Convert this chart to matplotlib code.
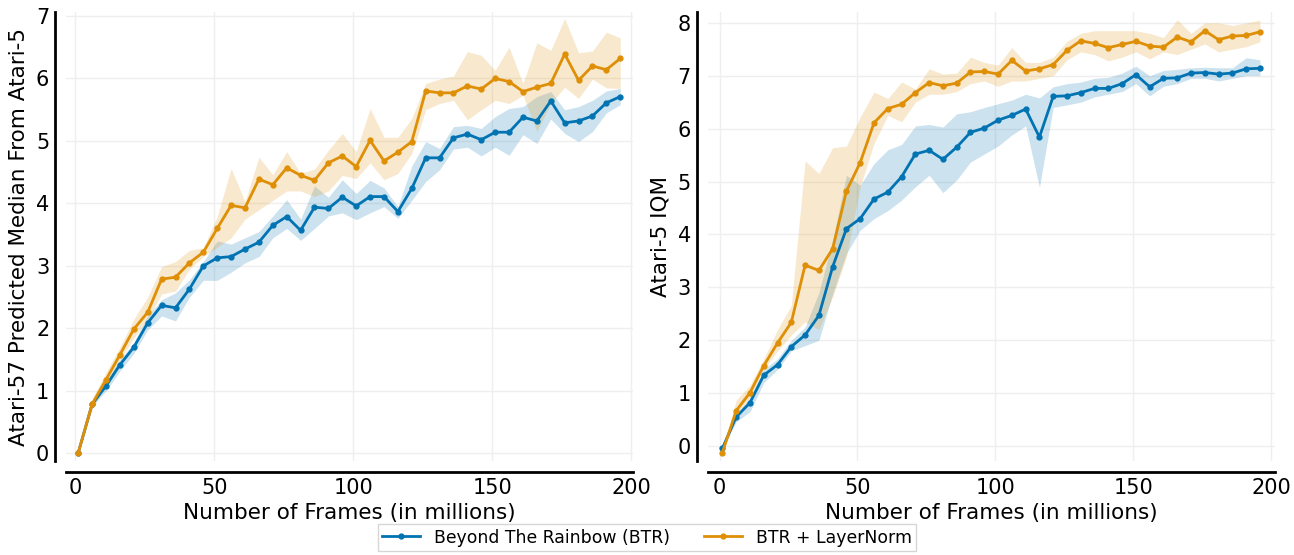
import matplotlib
matplotlib.use("Agg")
import matplotlib.pyplot as plt

# checkpoints (millions of frames)
frames = [1, 6, 11, 16, 21, 26, 31, 36, 41, 46,
          51, 56, 61, 66, 71, 76, 81, 86, 91, 96,
          101, 106, 111, 116, 121, 126, 131, 136, 141, 146,
          151, 156, 161, 166, 171, 176, 181, 186, 191, 196]

# left panel: Atari-57 predicted median
btr_median = [0.01, 0.79, 1.08, 1.42, 1.70, 2.09, 2.37, 2.33, 2.63, 3.00,
              3.13, 3.15, 3.27, 3.38, 3.65, 3.79, 3.57, 3.94, 3.92, 4.10,
              3.96, 4.11, 4.11, 3.87, 4.24, 4.73, 4.73, 5.05, 5.11, 5.02,
              5.14, 5.14, 5.38, 5.32, 5.64, 5.29, 5.32, 5.40, 5.61, 5.71]
btr_median_lo = [0.01, 0.76, 1.00, 1.32, 1.60, 1.98, 2.20, 2.12, 2.50, 2.77,
                 2.77, 2.90, 3.05, 3.15, 3.45, 3.60, 3.41, 3.60, 3.80, 3.85,
                 3.74, 3.85, 3.95, 3.76, 4.05, 4.35, 4.54, 4.87, 4.90, 4.76,
                 4.90, 4.77, 5.10, 4.96, 5.35, 5.12, 4.99, 5.15, 5.45, 5.58]
btr_median_hi = [0.01, 0.82, 1.15, 1.50, 1.78, 2.20, 2.46, 2.57, 2.78, 3.07,
                 3.40, 3.35, 3.45, 3.55, 3.80, 4.06, 3.75, 4.28, 4.10, 4.38,
                 4.16, 4.37, 4.25, 3.95, 4.60, 4.99, 4.88, 5.23, 5.25, 5.20,
                 5.39, 5.52, 5.55, 5.71, 5.79, 5.50, 5.55, 5.65, 5.80, 5.84]

ln_median = [0.01, 0.79, 1.18, 1.58, 1.99, 2.26, 2.79, 2.82, 3.05, 3.22,
             3.60, 3.97, 3.93, 4.39, 4.30, 4.57, 4.45, 4.37, 4.65, 4.76,
             4.59, 5.01, 4.68, 4.82, 4.99, 5.80, 5.77, 5.77, 5.88, 5.83,
             6.00, 5.95, 5.79, 5.86, 5.92, 6.39, 5.97, 6.20, 6.14, 6.32]
ln_median_lo = [0.01, 0.70, 1.10, 1.50, 1.85, 2.15, 2.55, 2.60, 2.95, 3.15,
                3.30, 3.45, 3.75, 3.90, 4.05, 4.20, 4.20, 4.11, 4.20, 4.45,
                4.40, 4.65, 4.38, 4.48, 4.80, 5.50, 5.60, 5.65, 5.34, 5.50,
                5.65, 5.60, 5.73, 5.15, 5.60, 5.86, 5.68, 5.99, 5.85, 5.84]
ln_median_hi = [0.01, 0.88, 1.30, 1.70, 2.15, 2.50, 2.99, 3.07, 3.25, 3.29,
                3.79, 4.56, 4.03, 4.74, 4.46, 4.83, 4.48, 4.55, 4.85, 5.12,
                4.83, 5.52, 5.06, 5.06, 5.36, 5.92, 5.99, 6.04, 6.43, 6.37,
                6.13, 6.50, 5.92, 6.57, 6.45, 6.96, 6.41, 6.44, 6.74, 6.65]

# right panel: Atari-5 IQM
btr_iqm = [-0.04, 0.55, 0.82, 1.34, 1.54, 1.88, 2.10, 2.47, 3.39, 4.11,
           4.30, 4.67, 4.80, 5.09, 5.52, 5.59, 5.42, 5.65, 5.93, 6.01,
           6.16, 6.25, 6.37, 5.84, 6.61, 6.62, 6.68, 6.76, 6.76, 6.85,
           7.02, 6.79, 6.95, 6.96, 7.05, 7.06, 7.03, 7.05, 7.13, 7.14]
btr_iqm_lo = [-0.04, 0.46, 0.65, 1.20, 1.45, 1.80, 1.90, 2.00, 2.88, 3.64,
              4.08, 4.30, 4.45, 4.65, 4.90, 5.12, 4.79, 5.03, 5.37, 5.52,
              5.67, 5.88, 6.05, 4.89, 6.40, 6.45, 6.50, 6.60, 6.65, 6.70,
              6.85, 6.62, 6.80, 6.85, 6.95, 6.95, 6.90, 6.95, 7.00, 7.00]
btr_iqm_hi = [-0.04, 0.60, 0.90, 1.45, 1.65, 2.00, 2.25, 2.90, 3.90, 5.12,
              4.93, 5.34, 5.60, 5.70, 6.05, 6.08, 6.03, 6.28, 6.32, 6.40,
              6.47, 6.54, 6.65, 6.58, 6.79, 6.85, 6.88, 6.95, 6.97, 7.05,
              7.18, 7.00, 7.10, 7.12, 7.15, 7.16, 7.15, 7.15, 7.34, 7.30]

ln_iqm = [-0.12, 0.67, 1.01, 1.52, 1.95, 2.34, 3.42, 3.32, 3.73, 4.82,
          5.36, 6.11, 6.38, 6.46, 6.68, 6.87, 6.81, 6.86, 7.07, 7.08,
          7.03, 7.29, 7.09, 7.13, 7.21, 7.48, 7.66, 7.61, 7.53, 7.59,
          7.65, 7.56, 7.54, 7.73, 7.64, 7.85, 7.68, 7.75, 7.76, 7.83]
ln_iqm_lo = [-0.12, 0.55, 0.90, 1.45, 1.80, 2.10, 2.35, 2.20, 2.82, 3.58,
             4.90, 5.72, 6.25, 6.13, 6.50, 6.65, 6.65, 6.70, 6.85, 6.90,
             6.80, 6.90, 6.90, 6.95, 7.00, 7.30, 7.45, 7.40, 7.28, 7.35,
             7.45, 7.32, 7.45, 7.40, 7.50, 7.60, 7.45, 7.50, 7.55, 7.64]
ln_iqm_hi = [-0.12, 0.87, 1.15, 1.65, 2.20, 2.66, 5.39, 5.15, 5.64, 5.67,
             6.22, 6.69, 6.57, 6.88, 6.75, 7.13, 7.03, 7.05, 7.35, 7.25,
             7.20, 7.53, 7.25, 7.25, 7.35, 7.65, 7.80, 7.85, 7.85, 7.85,
             7.85, 7.80, 7.72, 8.06, 7.80, 8.00, 8.00, 7.95, 8.00, 8.05]

labels = ["Beyond The Rainbow (BTR)", "BTR + LayerNorm"]
colors = ["#0173B2", "#DE8F05"]

fig, axes = plt.subplots(1, 2, figsize=(12.94, 5.55), dpi=100)
fig.subplots_adjust(left=0.051, right=0.9853, bottom=0.1694, top=0.978, wspace=0.131)

panels = [
    (axes[0], [(btr_median, btr_median_lo, btr_median_hi), (ln_median, ln_median_lo, ln_median_hi)],
     "Atari-57 Predicted Median From Atari-5", (-0.12, 7.06), (-3.4, 200.7)),
    (axes[1], [(btr_iqm, btr_iqm_lo, btr_iqm_hi), (ln_iqm, ln_iqm_lo, ln_iqm_hi)],
     "Atari-5 IQM", (-0.28, 8.2), (-4.35, 201.45)),
]

for ax, series, ylabel, ylim, xlim in panels:
    for (mean, lo, hi), label, color in zip(series, labels, colors):
        ax.fill_between(frames, lo, hi, color=color, alpha=0.2, linewidth=0)
        ax.plot(frames, mean, color=color, linewidth=2, marker="o", markersize=3.5,
                label=label)
    ax.set_xlim(*xlim)
    ax.set_ylim(*ylim)
    ax.set_xticks([0, 50, 100, 150, 200])
    ax.grid(True, color="#efefef", linewidth=1)
    ax.set_axisbelow(True)
    for side in ["top", "right"]:
        ax.spines[side].set_visible(False)
    for side in ["left", "bottom"]:
        ax.spines[side].set_position(("outward", 8))
        ax.spines[side].set_linewidth(2)
    ax.tick_params(length=0, labelsize=15, pad=4)
    ax.set_xlabel("Number of Frames (in millions)", fontsize=15.5, labelpad=4)
    ax.set_ylabel(ylabel, fontsize=15.5, labelpad=5)

handles, leg_labels = axes[0].get_legend_handles_labels()
fig.legend(handles, leg_labels, loc="lower center", ncol=2, fontsize=12.4,
           bbox_to_anchor=(0.5, -0.008), frameon=True, fancybox=False,
           edgecolor="#cccccc", handlelength=2.2, borderpad=0.25)

plt.savefig("out.png", dpi=100)
